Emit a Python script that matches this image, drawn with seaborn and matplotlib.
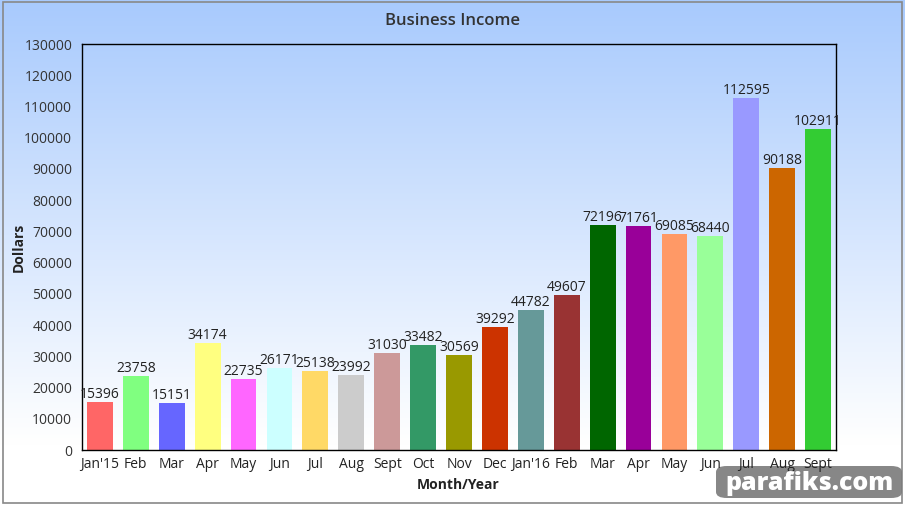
import numpy as np
import pandas as pd
import matplotlib
matplotlib.use("Agg")
import matplotlib.pyplot as plt
import seaborn as sns
from matplotlib.patches import FancyBboxPatch, Rectangle

# data
periods = ["2015-01", "2015-02", "2015-03", "2015-04", "2015-05", "2015-06", "2015-07",
           "2015-08", "2015-09", "2015-10", "2015-11", "2015-12", "2016-01", "2016-02",
           "2016-03", "2016-04", "2016-05", "2016-06", "2016-07", "2016-08", "2016-09"]
month_labels = ["Jan'15", "Feb", "Mar", "Apr", "May", "Jun", "Jul", "Aug", "Sept", "Oct",
                "Nov", "Dec", "Jan'16", "Feb", "Mar", "Apr", "May", "Jun", "Jul", "Aug", "Sept"]
income = [15396, 23758, 15151, 34174, 22735, 26171, 25138, 23992, 31030, 33482,
          30569, 39292, 44782, 49607, 72196, 71761, 69085, 68440, 112595, 90188, 102911]
bar_colors = ["#ff6666", "#80ff80", "#6666ff", "#ffff80", "#ff66ff", "#ccffff", "#ffd966",
              "#cccccc", "#cc9999", "#339966", "#999900", "#cc3300", "#669999", "#993333",
              "#006600", "#990099", "#ff9966", "#99ff99", "#9999ff", "#cc6600", "#33cc33"]
y_ticks = list(range(0, 130001, 10000))

df = pd.DataFrame({"period": periods, "income": income})

sns.set_style("white")
plt.rcParams["font.family"] = ["Open Sans", "DejaVu Sans"]

fig = plt.figure(figsize=(9.05, 5.05), dpi=100)

# gradient background over the whole figure (light blue at top -> white at bottom)
bg = fig.add_axes([0, 0, 1, 1], zorder=-10)
top = np.array([168, 202, 253]) / 255
bottom = np.array([255, 255, 255]) / 255
t = np.linspace(0, 1, 256)[:, None]
grad = np.clip(top + (bottom - top) * np.clip(t / 0.88, 0, 1), 0, 1)
bg.imshow(grad[:, None, :].repeat(2, axis=1), aspect="auto", extent=[0, 1, 0, 1],
          origin="upper")
bg.set_xlim(0, 1)
bg.set_ylim(0, 1)
bg.axis("off")
bg.add_patch(Rectangle((0.003, 0.004), 0.994, 0.992, transform=bg.transAxes,
                       fill=False, edgecolor="#888888", lw=1.2))

ax = fig.add_axes([82 / 905, 1 - 450 / 505, (836 - 82) / 905, (450 - 44) / 505])
ax.patch.set_alpha(0)
sns.barplot(data=df, x="period", y="income", hue="period", palette=bar_colors,
            order=periods, legend=False, width=0.72, saturation=1,
            edgecolor="none", linewidth=0, ax=ax)

for cont in ax.containers:
    ax.bar_label(cont, fmt="%d", padding=0, fontsize=10, color="#222222")

ax.set_ylim(0, 130000)
ax.set_xlim(-0.5, len(periods) - 0.5)
ax.set_yticks(y_ticks)
ax.set_yticklabels([str(v) for v in y_ticks], fontsize=10, color="#333333")
ax.set_xticks(range(len(periods)))
ax.set_xticklabels(month_labels, fontsize=10, color="#222222")
ax.tick_params(axis="x", length=0, pad=5)
ax.tick_params(axis="y", length=3, pad=4)
for s in ax.spines.values():
    s.set_visible(True)
    s.set_color("black")
    s.set_linewidth(1)
ax.set_xlabel("Month/Year", fontsize=10, fontweight="bold", color="#222222")
ax.xaxis.set_label_coords((458 - 82) / 754, -(478 - 450) / 406)
ax.set_ylabel("Dollars", fontsize=10, fontweight="bold", color="#222222")
ax.yaxis.set_label_coords((26 - 82) / 754, 0.5)

fig.text(0.5, 1 - 21 / 505, "Business Income", ha="center", va="center",
         fontsize=12, fontweight="semibold", color="#333333")

# watermark
bg.add_patch(FancyBboxPatch((716 / 905, 1 - 498 / 505), 186 / 905, 32 / 505,
                            boxstyle="round,pad=0,rounding_size=0.012",
                            transform=fig.transFigure, facecolor="#7a7a7a",
                            edgecolor="none", alpha=0.9, zorder=5))
fig.text(809 / 905, 1 - 483 / 505, "parafiks.com", ha="center", va="center",
         fontsize=18, fontweight="heavy", color="white", zorder=6)

fig.savefig("out.png", dpi=100)
